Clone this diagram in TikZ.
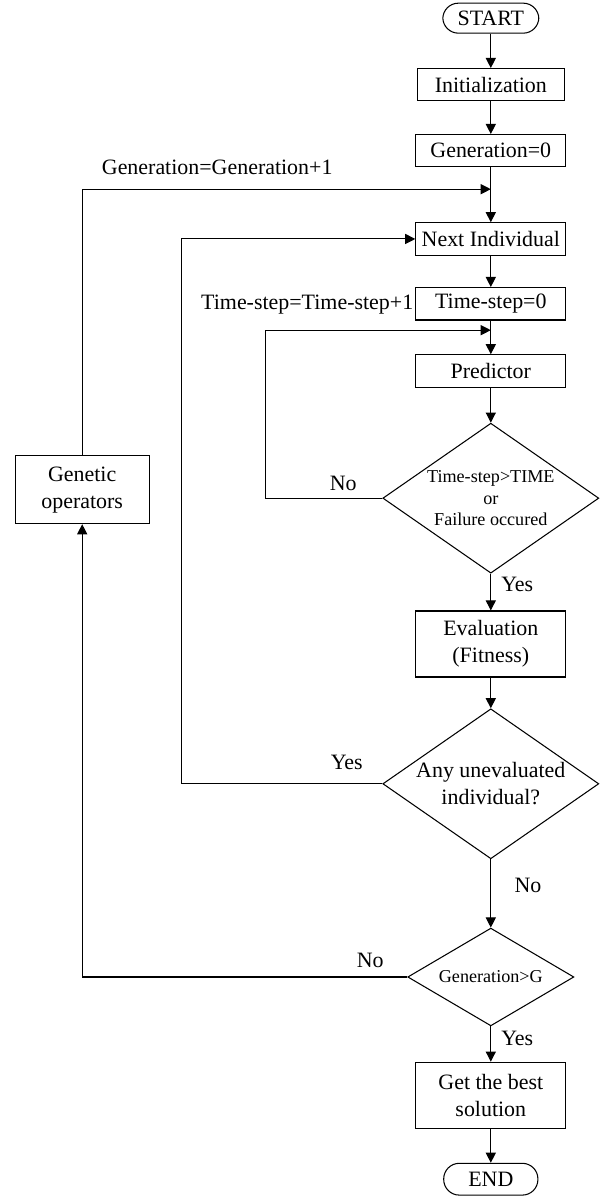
\documentclass[tikz,border=0pt]{standalone}
\usepackage{fontspec}
\setmainfont{Liberation Serif}
\usetikzlibrary{shapes.geometric,arrows.meta}

\begin{document}
\begin{tikzpicture}[font=\fontsize{10.4}{12.8}\selectfont,>={Triangle[length=4.8pt,width=4.8pt]},x=1cm,y=1cm]
    \tikzset{
        stage/.style={
            draw,
            line width=0.5pt,
            minimum width=2.5cm,
            minimum height=0.54cm,
            inner sep=0pt,
            align=center
        },
        tall/.style={stage,minimum height=1.1cm},
        term/.style={
            draw,
            line width=0.5pt,
            rounded corners=0.26cm,
            minimum width=1.6cm,
            minimum height=0.5cm,
            inner sep=0pt
        },
        test/.style={
            draw,
            line width=0.5pt,
            diamond,
            aspect=1.44,
            inner sep=0pt,
            align=center
        },
        small/.style={font=\fontsize{8.6}{10.1}\selectfont},
        link/.style={->,line width=0.5pt}
    }
    \useasboundingbox (0,0) rectangle (10,19.933);

    \node[term] (start) at (8.18,19.63) {START};
    \node[stage,minimum width=2.45cm] (init) at (8.18,18.52) {Initialization};
    \node[stage] (gen) at (8.18,17.42) {Generation=0};
    \node[stage] (next) at (8.18,15.95) {Next Individual};
    \node[stage] (tstep) at (8.18,14.87) {Time-step=0};
    \node[stage] (pred) at (8.18,13.75) {Predictor};
    \node[test,small,minimum width=3.6cm,minimum height=2.5cm] (tcheck) at (8.18,11.63)
        {Time-step>TIME\\or\\Failure occured};
    \node[tall] (eval) at (8.18,9.20) {Evaluation\\(Fitness)};
    \node[test,minimum width=3.6cm,minimum height=2.5cm] (anyleft) at (8.18,6.87)
        {Any unevaluated\\individual?};
    \node[test,small,minimum width=2.77cm,minimum height=1.63cm] (gcheck) at (8.18,3.65)
        {Generation>G};
    \node[tall] (best) at (8.18,1.68) {Get the best\\solution};
    \node[term,minimum width=1.57cm,minimum height=0.53cm] (finish) at (8.18,0.28) {END};

    \node[tall,minimum width=2.23cm,minimum height=1.13cm] (genop) at (1.37,11.77)
        {Genetic\\operators};

    \coordinate (genjoin) at (8.18,16.78);
    \coordinate (tjoin) at (8.18,14.43);
    \coordinate (tloop) at (4.43,14.43);
    \coordinate (nloop) at (3.03,15.95);

    \draw[link] (start) -- (init);
    \draw[link] (init) -- (gen);
    \draw[link] (gen) -- (next);
    \draw[link] (next) -- (tstep);
    \draw[link] (tstep) -- (pred);
    \draw[link] (pred) -- (tcheck);
    \draw[link] (tcheck) -- (eval);
    \draw[link] (eval) -- (anyleft);
    \draw[link] (anyleft) -- (gcheck);
    \draw[link] (gcheck) -- (best);
    \draw[link] (best) -- (finish);

    \draw[link] (tcheck.west) -| (tloop) -- (tjoin);
    \draw[link] (anyleft.west) -| (nloop) -- (next.west);
    \draw[link] (gcheck.west) -| (genop.south);
    \draw[link] (genop.north) |- (genjoin);

    \node (lblgen) at (3.62,17.15) {Generation=Generation+1};
    \node (lblstep) at (5.12,14.85) {Time-step=Time-step+1};
    \node (lblno1) at (5.72,11.87) {No};
    \node (lblyes1) at (8.62,10.20) {Yes};
    \node (lblyes2) at (5.78,7.23) {Yes};
    \node (lblno2) at (8.80,5.18) {No};
    \node (lblno3) at (6.17,3.93) {No};
    \node (lblyes3) at (8.62,2.62) {Yes};
\end{tikzpicture}
\end{document}
